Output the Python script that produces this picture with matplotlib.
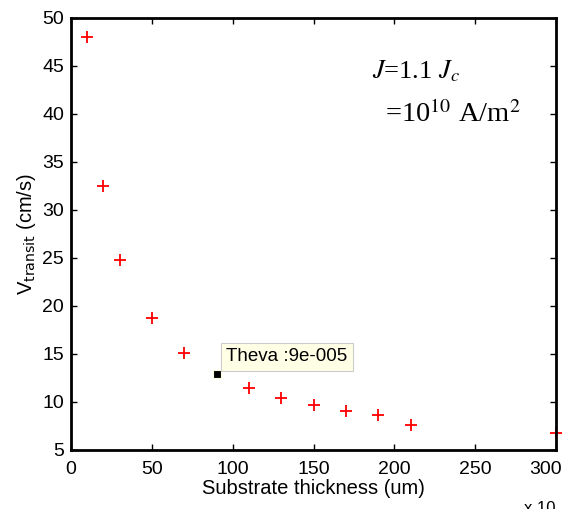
import numpy as np
import matplotlib
matplotlib.use("Agg")
import matplotlib.pyplot as plt
import matplotlib.transforms as mtransforms

# substrate thickness (um) and transit velocity (cm/s)
thickness = [10, 20, 30, 50, 70, 90, 110, 130, 150, 170, 190, 210, 300]
v_transit = [48.0, 32.5, 24.8, 18.8, 15.1, 12.9, 11.5, 10.4, 9.7, 9.05, 8.65, 7.6, 6.8]
xticks = [0, 50, 100, 150, 200, 250, 300]
yticks = [5, 10, 15, 20, 25, 30, 35, 40, 45, 50]
tip_idx = 5  # point selected by the data tip

plt.rcParams['font.family'] = ['Arial', 'Liberation Sans', 'DejaVu Sans']

fig = plt.figure(figsize=(5.66, 5.09), dpi=100)
ax = fig.add_axes([71 / 566, 1 - 450 / 509, (556 - 71) / 566, (450 - 18) / 509])

xs = [x for i, x in enumerate(thickness) if i != tip_idx]
ys = [y for i, y in enumerate(v_transit) if i != tip_idx]
ax.plot(xs, ys, linestyle='none', marker='+', color='red',
        markersize=8.5, markeredgewidth=1.3, clip_on=False)

# data tip
tx, ty = thickness[tip_idx], v_transit[tip_idx]
ax.plot([tx], [ty], marker='s', color='black', markersize=6,
        markeredgecolor='#ffffe0', markeredgewidth=0.8)
ax.annotate('Theva :9e-005', xy=(tx, ty), xytext=(10, 9),
            textcoords='offset pixels', fontsize=13.5, ha='left', va='bottom',
            bbox=dict(boxstyle='square,pad=0.3', fc='#ffffe6', ec='#cccccc', lw=0.8))

ax.set_xlim(0, 300)
ax.set_ylim(5, 50)
ax.set_xticks(xticks)
ax.set_yticks(yticks)
ax.tick_params(direction='in', length=4, width=1, labelsize=14, top=True, right=True,
               labeltop=False, labelright=False)
ax.tick_params(axis='x', pad=8)
ax.tick_params(axis='y', pad=5)
for s in ax.spines.values():
    s.set_linewidth(2)

# last x tick label is pulled in to stay inside the figure
last = ax.get_xticklabels()[-1]
last.set_transform(last.get_transform() + mtransforms.ScaledTranslation(-10 / 100, 0, fig.dpi_scale_trans))

ax.set_xlabel('Substrate thickness (um)', fontsize=14.5, labelpad=1)
ax.set_ylabel(r'V$_{\mathrm{transit}}$ (cm/s)', fontsize=14.5, labelpad=3)

ax.text(0.62, 0.861, r'$J$=1.1 $J_c$', transform=ax.transAxes, fontsize=19,
        va='baseline', family='Liberation Serif', math_fontfamily='stix')
ax.text(0.647, 0.759, r'=10$^{10}$ A/m$^2$', transform=ax.transAxes, fontsize=20.5,
        va='baseline', family='Liberation Serif', math_fontfamily='stix')

# clipped exponent label at bottom edge
fig.text(540 / 566, -0.014, r'x 10', fontsize=12, ha='center', va='bottom')

fig.savefig('out.png', dpi=100)
